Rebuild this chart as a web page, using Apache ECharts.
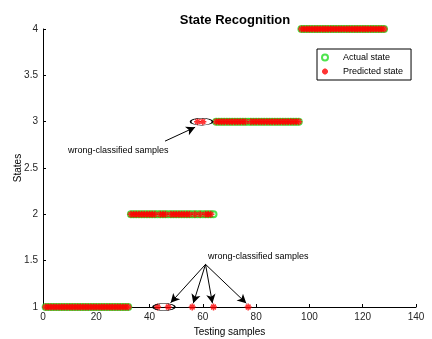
<!DOCTYPE html>
<html><head><meta charset="utf-8">
<script src="https://cdn.jsdelivr.net/npm/echarts@6/dist/echarts.min.js"></script>
<style>html,body{margin:0;padding:0;background:#fff}#c{width:432px;height:339px}</style>
</head><body><div id="c"></div>
<script>
const titleText = 'State Recognition';
const xLabel = 'Testing samples';
const yLabel = 'States';
const sampleIndex = Array.from({length: 128}, (_, i) => i + 1);
const actualState = [
 1,1,1,1,1,1,1,1,1,1,1,1,1,1,1,1,1,1,1,1,1,1,1,1,1,1,1,1,1,1,1,1,
 2,2,2,2,2,2,2,2,2,2,2,2,2,2,2,2,2,2,2,2,2,2,2,2,2,2,2,2,2,2,2,2,
 3,3,3,3,3,3,3,3,3,3,3,3,3,3,3,3,3,3,3,3,3,3,3,3,3,3,3,3,3,3,3,3,
 4,4,4,4,4,4,4,4,4,4,4,4,4,4,4,4,4,4,4,4,4,4,4,4,4,4,4,4,4,4,4,4
];
const predictedState = [
 1,1,1,1,1,1,1,1,1,1,1,1,1,1,1,1,1,1,1,1,1,1,1,1,1,1,1,1,1,1,1,1,
 2,2,2,2,2,2,2,2,2,2,1,2,2,2,1,2,2,2,2,2,2,2,2,1,2,3,2,3,2,2,2,1,
 3,3,3,3,3,3,3,3,3,3,3,3,1,3,3,3,3,3,3,3,3,3,3,3,3,3,3,3,3,3,3,3,
 4,4,4,4,4,4,4,4,4,4,4,4,4,4,4,4,4,4,4,4,4,4,4,4,4,4,4,4,4,4,4,4
];
const xTicks = [0, 20, 40, 60, 80, 100, 120, 140];
const yTicks = [1, 1.5, 2, 2.5, 3, 3.5, 4];
const annoText = 'wrong-classified samples';
// annotation geometry in data coordinates
const ellipses = [[45.4, 1], [59.5, 3]];
const lowerArrowFrom = [61, 1.46];
const lowerArrowTo = [[47.9, 1.045], [56.4, 1.04], [63.6, 1.04], [76.3, 1.04]];
const upperArrowFrom = [45.8, 2.79];
const upperArrowTo = [[57.1, 2.94]];

const FONT = 'Liberation Sans, Arial, sans-serif';
const starPath = 'path://M5,0L5,10M0,5L10,5M1.6,1.6L8.4,8.4M1.6,8.4L8.4,1.6';
const ellipsePath = 'path://M0,5A10,5 0 1,1 20,5A10,5 0 1,1 0,5Z';

const chart = echarts.init(document.getElementById('c'), null, {renderer: 'canvas'});
const lines = [];
lowerArrowTo.forEach(t => lines.push([{coord: lowerArrowFrom}, {coord: t}]));
upperArrowTo.forEach(t => lines.push([{coord: upperArrowFrom}, {coord: t}]));

chart.setOption({
  animation: false,
  backgroundColor: '#fff',
  title: {text: titleText, left: 230, top: 9, textAlign: 'center',
    textStyle: {fontFamily: FONT, fontSize: 13, fontWeight: 'bold', color: '#000'}},
  grid: {left: 43, right: 16, top: 29, bottom: 32, containLabel: false, outerBoundsMode: 'none'},
  legend: {
    orient: 'vertical', left: 317, top: 49,
    data: ['Actual state', 'Predicted state'],
    borderColor: '#000', borderWidth: 1, padding: [4, 8, 4, 4],
    itemWidth: 26, itemHeight: 6, itemGap: 5,
    textStyle: {fontFamily: FONT, fontSize: 9, color: '#000'}
  },
  xAxis: {
    type: 'value', min: 0, max: 140, interval: 20,
    name: xLabel, nameLocation: 'middle', nameGap: 15,
    nameTextStyle: {fontFamily: FONT, fontSize: 10, color: '#000'},
    axisLine: {lineStyle: {color: '#000', width: 1}},
    axisTick: {inside: true, length: 3, lineStyle: {color: '#000'}},
    axisLabel: {fontFamily: FONT, fontSize: 10, color: '#262626', margin: 5,
      formatter: v => xTicks.includes(v) ? String(v) : ''},
    splitLine: {show: false}
  },
  yAxis: {
    type: 'value', min: 1, max: 4, interval: 0.5,
    name: yLabel, nameLocation: 'middle', nameGap: 20, nameMoveOverlap: false,
    nameTextStyle: {fontFamily: FONT, fontSize: 10, color: '#000'},
    axisLine: {show: true, lineStyle: {color: '#000', width: 1}},
    axisTick: {show: true, inside: true, length: 3, lineStyle: {color: '#000'}},
    axisLabel: {fontFamily: FONT, fontSize: 10, color: '#262626', margin: 5,
      formatter: v => yTicks.includes(v) ? String(v) : ''},
    splitLine: {show: false}
  },
  series: [
    {
      name: 'Actual state', type: 'scatter',
      data: sampleIndex.map((s, i) => [s, actualState[i]]),
      symbol: 'emptyCircle', symbolSize: 6,
      itemStyle: {color: '#22dd22', borderColor: '#22dd22', borderWidth: 0.8},
      z: 2
    },
    {
      name: 'Predicted state', type: 'scatter',
      data: sampleIndex.map((s, i) => [s, predictedState[i]]),
      symbol: starPath, symbolSize: 7,
      itemStyle: {color: '#ff0000', borderColor: '#ff0000', borderWidth: 1.5},
      z: 3
    },
    {
      name: 'annotations', type: 'scatter', data: [], z: 5,
      markPoint: {
        symbol: ellipsePath, symbolSize: [22, 7],
        itemStyle: {color: 'rgba(0,0,0,0)', borderColor: '#000', borderWidth: 1},
        label: {show: false},
        data: ellipses.map(c => ({coord: c}))
      },
      markLine: {
        silent: true,
        symbol: ['none', 'arrow'], symbolSize: [7, 9],
        lineStyle: {color: '#000', width: 1, type: 'solid'},
        label: {show: false},
        data: lines
      }
    }
  ],
  graphic: [
    {type: 'text', left: 68, top: 146, style: {text: annoText, font: '9px ' + FONT, fill: '#000'}},
    {type: 'text', left: 208, top: 252, style: {text: annoText, font: '9px ' + FONT, fill: '#000'}}
  ]
});
</script></body></html>
